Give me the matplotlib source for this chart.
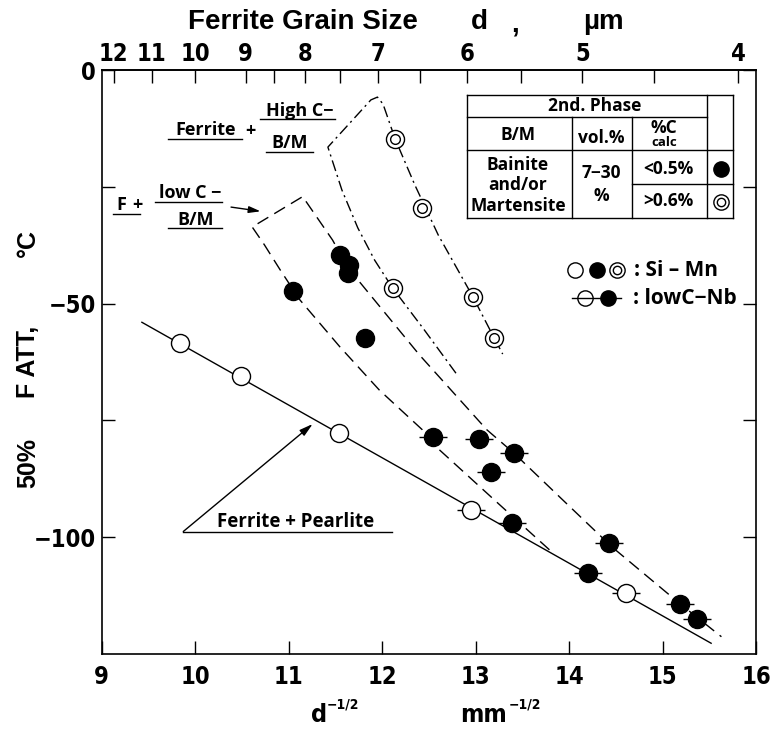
import numpy as np
import matplotlib
matplotlib.use('Agg')
import matplotlib.pyplot as plt
from matplotlib.lines import Line2D
from matplotlib import font_manager

W, H = 771, 731

# Si-Mn steels (no tick)
simn_open_x = [9.84, 10.49, 11.54]
simn_open_y = [-58.4, -65.5, -77.7]
simn_solid_x = [11.05, 11.55, 11.65, 11.63, 11.82]
simn_solid_y = [-47.2, -39.7, -41.7, -43.5, -57.4]
simn_double_x = [12.14, 12.43, 12.12, 12.97, 13.20]
simn_double_y = [-14.8, -29.6, -46.7, -48.5, -57.4]

# low C - Nb steels (marker with horizontal tick)
nb_open_x = [12.95, 14.61]
nb_open_y = [-94.2, -112.0]
nb_solid_x = [12.54, 13.04, 13.41, 13.16, 13.39, 14.43, 14.20, 15.19, 15.37]
nb_solid_y = [-78.5, -79.0, -82.0, -86.0, -97.0, -101.3, -107.7, -114.3, -117.5]

# trend lines
fp_x = [9.43, 15.52]
fp_y = [-54.0, -122.7]
lowc_x = [13.79, 13.26, 12.58, 12.43, 11.97, 11.55, 11.12, 10.91, 10.74, 10.61,
          11.15, 11.47, 11.60, 11.74, 12.40, 13.12, 13.41, 13.90, 14.46, 15.19, 15.63]
lowc_y = [-102.7, -93.1, -80.7, -77.0, -68.5, -59.3, -49.2, -42.8, -37.4, -33.6,
          -27.1, -36.4, -41.1, -44.9, -61.0, -77.0, -82.0, -91.4, -102.1, -114.3, -121.3]
highc_x = [12.79, 12.45, 12.11, 11.92, 11.74, 11.57, 11.42, 11.88, 11.95, 12.01,
           12.14, 12.35, 12.60, 12.97, 13.20, 13.29]
highc_y = [-64.9, -55.6, -46.6, -40.7, -33.8, -25.7, -16.5, -6.4, -5.8, -7.3,
           -14.8, -24.6, -35.3, -48.5, -57.4, -60.8]

# axes ticks
x_ticks = [9, 10, 11, 12, 13, 14, 15, 16]
y_ticks = [0, -25, -50, -75, -100]
y_labels = ['0', '', '\u221250', '', '\u2212100']
grain_ticks = [12, 11, 10, 9, 8.5, 8, 7.5, 7, 6.5, 6, 5.5, 5, 4.5, 4]
grain_labels = [str(int(g)) if g == int(g) else '' for g in grain_ticks]

# pick a narrow bold face for the numbers if one is installed
fonts = font_manager.fontManager.ttflist
if any(f.name == 'Liberation Sans Narrow' for f in fonts):
    NARROW = dict(family=['Liberation Sans Narrow', 'DejaVu Sans'], stretch='normal')
elif any(f.name == 'DejaVu Sans' and f.stretch == 'condensed' for f in fonts):
    NARROW = dict(family=['DejaVu Sans'], stretch='condensed')
else:
    NARROW = dict(family=['Liberation Sans', 'DejaVu Sans'], stretch='normal')

plt.rcParams['font.family'] = NARROW['family']
plt.rcParams['font.stretch'] = NARROW['stretch']
plt.rcParams['font.weight'] = 'bold'
HUM = ['Open Sans', 'DejaVu Sans']
WIDE = ['Liberation Sans', 'DejaVu Sans']

fig = plt.figure(figsize=(W / 100, H / 100), dpi=100)
ax = fig.add_axes([101.7 / W, 1 - 654 / H, (756 - 101.7) / W, 584 / H])
ax.set_xlim(9, 16)
ax.set_ylim(-125, 0)


def P(x, y):
    return (x / W, 1 - y / H)


def seg(x0, y0, x1, y1, lw=1.0):
    fig.add_artist(Line2D([x0 / W, x1 / W], [1 - y0 / H, 1 - y1 / H], color='k', lw=lw))


def txt(x, y, s, size=13, family=HUM, **kw):
    fig.text(x / W, 1 - y / H, s, ha='center', va='center', size=size,
             family=family, weight='bold', **kw)


# lines
ax.plot(fp_x, fp_y, color='k', lw=1)
ax.plot(lowc_x, lowc_y, color='k', lw=1, dashes=(9, 5))
ax.plot(highc_x, highc_y, color='k', lw=1, dashes=(8, 3, 1.5, 3))

ms = 13
# ticks behind the low C-Nb markers
ax.plot(nb_open_x + nb_solid_x, nb_open_y + nb_solid_y, ls='none', marker='_',
        ms=20, mew=1, color='k', zorder=4)
ax.plot(simn_open_x, simn_open_y, ls='none', marker='o', ms=ms, mfc='white', mec='k', mew=1, zorder=5)
ax.plot(nb_open_x, nb_open_y, ls='none', marker='o', ms=ms, mfc='white', mec='k', mew=1, zorder=5)
ax.plot(simn_solid_x, simn_solid_y, ls='none', marker='o', ms=ms, mfc='k', mec='k', zorder=5)
ax.plot(nb_solid_x, nb_solid_y, ls='none', marker='o', ms=ms, mfc='k', mec='k', zorder=5)
ax.plot(simn_double_x, simn_double_y, ls='none', marker='o', ms=ms, mfc='white', mec='k', mew=1, zorder=5)
ax.plot(simn_double_x, simn_double_y, ls='none', marker='o', ms=7, mfc='white', mec='k', mew=1, zorder=6)

# axes
for sp in ax.spines.values():
    sp.set_linewidth(1.2)
ax.set_xticks(x_ticks)
ax.set_xticklabels([str(v) for v in x_ticks])
ax.set_yticks(y_ticks)
ax.set_yticklabels(y_labels)
ax.tick_params(direction='in', length=9.5, width=1, right=True, labelsize=17)
ax.tick_params(axis='x', pad=8)
ax.tick_params(axis='y', pad=4)


def to_d(x):
    x = np.asarray(x, dtype=float)
    with np.errstate(divide='ignore', invalid='ignore'):
        return 1000.0 / np.where(x > 0, x, np.nan) ** 2


def to_x(d):
    d = np.asarray(d, dtype=float)
    with np.errstate(divide='ignore', invalid='ignore'):
        return np.sqrt(1000.0 / np.where(d > 0, d, np.nan))


sec = ax.secondary_xaxis('top', functions=(to_d, to_x))
sec.set_xticks(grain_ticks, labels=grain_labels)
sec.tick_params(direction='in', length=9.5, width=1, labelsize=17, pad=3)
sec.spines['top'].set_linewidth(1.2)

# titles
txt(303, 22, 'Ferrite Grain Size', size=20, family=WIDE)
txt(479, 22, 'd', size=20, family=WIDE)
txt(515, 24, ',', size=20, family=WIDE)
txt(603, 22, '\u00b5m', size=20, family=WIDE)

txt(28, 463, '50%', size=18, family=WIDE, rotation=90)
txt(28, 362, 'F ATT,', size=18, family=WIDE, rotation=90)
txt(28, 243, '\u00b0C', size=18, family=WIDE, rotation=90)

txt(319, 715, 'd', size=18, family=NARROW['family'], stretch=NARROW['stretch'])
txt(343, 704, '\u22121/2', size=10, family=NARROW['family'], stretch=NARROW['stretch'])
txt(484, 715, 'mm', size=18, family=NARROW['family'], stretch=NARROW['stretch'])
txt(525, 704, '\u22121/2', size=10, family=NARROW['family'], stretch=NARROW['stretch'])

# table
tl, tr, tt, tb = 466.7, 733.3, 95, 218.3
c1, c2, c3 = 571.7, 631.7, 706.7
seg(tl, tt, tr, tt)
seg(tl, tb, tr, tb)
seg(tl, tt, tl, tb)
seg(tr, tt, tr, tb)
seg(tl, 116.7, c3, 116.7)
seg(tl, 150, tr, 150)
seg(c2, 184.3, tr, 184.3)
seg(c1, 116.7, c1, tb)
seg(c2, 116.7, c2, tb)
seg(c3, tt, c3, tb)
txt(595, 106, '2nd. Phase', size=12.5)
txt(518, 135, 'B/M', size=12.5)
txt(601.7, 138, 'vol.%', size=12.5)
txt(664, 128, '%C', size=12.5)
txt(664, 142, 'calc', size=9.5)
txt(518, 165, 'Bainite', size=12.5)
txt(518, 185.5, 'and/or', size=12.5)
txt(518, 206, 'Martensite', size=12.5)
txt(601.7, 173, '7\u221230', size=12.5)
txt(601.7, 196, '%', size=12.5)
txt(668, 169, '<0.5%', size=12.5)
txt(668, 201.5, '>0.6%', size=12.5)
ax.plot(*P(720.7, 169.3), transform=fig.transFigure, marker='o', ms=11, mfc='k', mec='k', clip_on=False)
ax.plot(*P(720.7, 201.7), transform=fig.transFigure, marker='o', ms=11, mfc='white', mec='k', mew=1, clip_on=False)
ax.plot(*P(720.7, 201.7), transform=fig.transFigure, marker='o', ms=6, mfc='white', mec='k', mew=1, clip_on=False)

# legend
ax.plot(*P(575, 270), transform=fig.transFigure, marker='o', ms=11, mfc='white', mec='k', mew=1, clip_on=False)
ax.plot(*P(596.7, 270), transform=fig.transFigure, marker='o', ms=11, mfc='k', mec='k', clip_on=False)
ax.plot(*P(616.7, 270), transform=fig.transFigure, marker='o', ms=11, mfc='white', mec='k', mew=1, clip_on=False)
ax.plot(*P(616.7, 270), transform=fig.transFigure, marker='o', ms=6, mfc='white', mec='k', mew=1, clip_on=False)
txt(676, 270, ': Si \u2013 Mn', size=15)
seg(572, 298.3, 621, 298.3)
ax.plot(*P(585, 298.3), transform=fig.transFigure, marker='o', ms=11, mfc='white', mec='k', mew=1, clip_on=False)
ax.plot(*P(608.3, 298.3), transform=fig.transFigure, marker='o', ms=11, mfc='k', mec='k', clip_on=False)
txt(685, 298.3, ': lowC\u2212Nb', size=15)

# region annotations
txt(206, 130, 'Ferrite', size=13)
txt(250, 131, '+', size=13)
seg(168, 139.3, 242, 139.3)
txt(300, 111.5, 'High C\u2212', size=13)
seg(260, 119.3, 335, 119.3)
txt(290, 143.5, 'B/M', size=13)
seg(265.7, 151.7, 313.3, 151.7)

txt(121, 205, 'F', size=13)
txt(137, 205, '+', size=13)
seg(113.3, 214, 140, 214)
txt(190, 193.5, 'low C \u2212', size=13)
seg(155, 201.7, 221.7, 201.7)
txt(196, 220, 'B/M', size=13)
seg(168.3, 228.3, 221.7, 228.3)
ax.annotate('', xy=P(263.3, 211.7), xytext=P(228.3, 206.7), xycoords='figure fraction',
            arrowprops=dict(arrowstyle='-|>,head_length=0.7,head_width=0.2', lw=1, color='k'))

txt(295.7, 521.7, 'Ferrite + Pearlite', size=13.5)
seg(183.3, 531.5, 391.7, 531.5)
ax.annotate('', xy=P(312.7, 424), xytext=P(183.3, 531.5), xycoords='figure fraction',
            arrowprops=dict(arrowstyle='-|>,head_length=0.8,head_width=0.22', lw=1, color='k',
                            shrinkA=0, shrinkB=0))

fig.savefig('out.png', dpi=100)
